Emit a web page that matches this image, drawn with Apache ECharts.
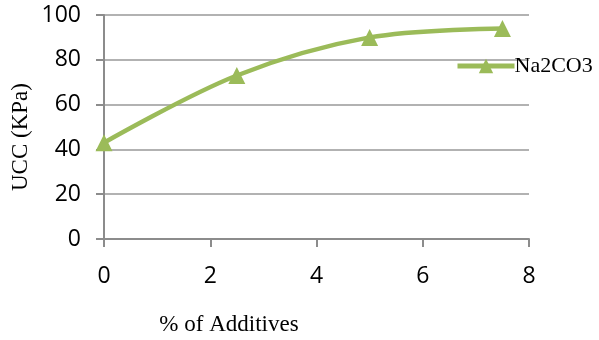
<!DOCTYPE html>
<html><head><meta charset="utf-8">
<script src="https://cdn.jsdelivr.net/npm/echarts@6/dist/echarts.min.js"></script>
<style>html,body{margin:0;padding:0;background:#fff}#c{width:599px;height:340px}</style>
</head><body><div id="c"></div>
<script>
const seriesName = 'Na2CO3';
const xValues = [0, 2.5, 5, 7.5];
const yValues = [43, 73, 90, 94];
const xTitle = '% of Additives';
const yTitle = 'UCC (KPa)';

const chart = echarts.init(document.getElementById('c'));
const serif = 'Liberation Serif, Times New Roman, serif';
const tickFont = {fontFamily: 'Open Sans, Calibri, sans-serif', fontSize: 23, color: '#000'};
chart.setOption({
  animation: false,
  backgroundColor: '#fff',
  grid: {left: 104, right: 70, top: 15, bottom: 101},
  graphic: [
    {type: 'text', x: 229, y: 325,
     style: {text: xTitle, fontFamily: serif, fontSize: 23, fill: '#000', align: 'center', verticalAlign: 'middle'}},
    {type: 'text', x: 21, y: 137, rotation: Math.PI / 2,
     style: {text: yTitle, fontFamily: serif, fontSize: 23, fill: '#000', align: 'center', verticalAlign: 'middle'}}
  ],
  legend: {
    data: [seriesName], left: 455, top: 55, itemWidth: 57, itemHeight: 18, itemGap: 0, padding: 0,
    lineStyle: {width: 5, color: '#9bbb59'},
    textStyle: {fontFamily: serif, fontSize: 22, color: '#000', padding: [0,0,0,-5]}
  },
  xAxis: {
    type: 'value', min: 0, max: 8, interval: 2,
    axisLine: {lineStyle: {color: '#8c8c8c', width: 2}},
    axisTick: {show: true, length: 8, lineStyle: {color: '#8c8c8c', width: 2}},
    axisLabel: Object.assign({margin: 26}, tickFont),
    splitLine: {show: false}
  },
  yAxis: {
    type: 'value', min: 0, max: 100, interval: 20,
    axisLine: {show: true, lineStyle: {color: '#8c8c8c', width: 2}},
    axisTick: {show: true, length: 8, lineStyle: {color: '#8c8c8c', width: 2}},
    axisLabel: Object.assign({margin: 23}, tickFont),
    splitLine: {show: true, lineStyle: {color: '#999', width: 1.5}}
  },
  series: [{
    name: seriesName, type: 'line', smooth: 0.35,
    data: xValues.map((x, i) => [x, yValues[i]]),
    symbol: 'triangle', symbolSize: 17,
    lineStyle: {color: '#9bbb59', width: 4.5},
    itemStyle: {color: '#9bbb59'}
  }]
});
</script></body></html>
